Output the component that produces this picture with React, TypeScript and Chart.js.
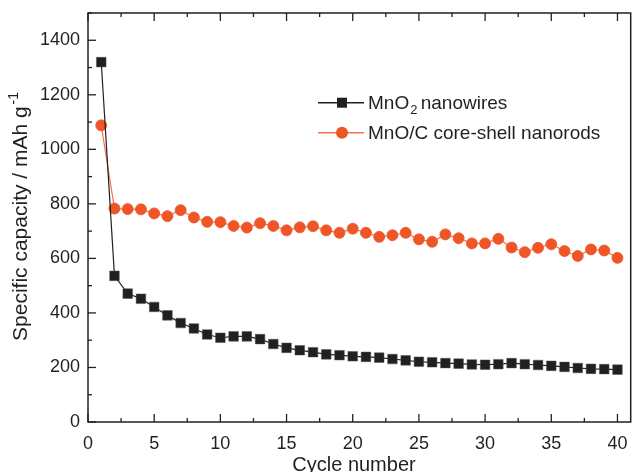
import React, { useEffect, useRef } from "react";
import { Chart, registerables } from "chart.js";

Chart.register(...registerables);

const cycles = [1, 2, 3, 4, 5, 6, 7, 8, 9, 10, 11, 12, 13, 14, 15, 16, 17, 18, 19, 20, 21, 22, 23, 24, 25, 26, 27, 28, 29, 30, 31, 32, 33, 34, 35, 36, 37, 38, 39, 40];
const mno2Nanowires = [1320, 536, 471, 452, 422, 391, 363, 343, 321, 309, 314, 314, 304, 286, 272, 263, 256, 248, 245, 241, 239, 236, 231, 226, 221, 219, 216, 214, 211, 210, 212, 216, 212, 209, 206, 202, 198, 195, 194, 192];
const mnoCNanorods = [1088, 783, 781, 780, 765, 755, 777, 750, 734, 733, 719, 713, 729, 719, 703, 714, 718, 703, 694, 709, 694, 679, 685, 694, 670, 661, 688, 674, 655, 655, 672, 640, 623, 639, 652, 627, 609, 633, 629, 602];

const xMajorTicks = [0, 5, 10, 15, 20, 25, 30, 35, 40];
const xMinorTicks = [2.5, 7.5, 12.5, 17.5, 22.5, 27.5, 32.5, 37.5];
const yMajorTicks = [0, 200, 400, 600, 800, 1000, 1200, 1400];
const yMinorTicks = [100, 300, 500, 700, 900, 1100, 1300, 1500];

const xTitle = "Cycle number";
const yTitle = "Specific capacity / mAh g";
const yTitleSup = "-1";
const legendLabels = ["MnO", "2", " nanowires", "MnO/C core-shell nanorods"];

const AXIS = "#231f20";
const BLACK = "#231f20";
const ORANGE = "#ef5526";
const ORANGE_LINE = "#f3734d";
const FONT = "'Liberation Sans', Arial, Helvetica, sans-serif";

const decorPlugin = {
  id: "decor",
  afterDraw(chart: any) {
    const { ctx, chartArea: a, scales } = chart;
    const xs = scales.x;
    const ys = scales.y;
    ctx.save();
    ctx.strokeStyle = AXIS;
    ctx.lineWidth = 1.5;
    ctx.strokeRect(a.left, a.top, a.right - a.left, a.bottom - a.top);
    ctx.lineWidth = 1.3;
    const tick = (x1: number, y1: number, x2: number, y2: number) => {
      ctx.beginPath();
      ctx.moveTo(x1, y1);
      ctx.lineTo(x2, y2);
      ctx.stroke();
    };
    xMajorTicks.forEach((v) => {
      const p = xs.getPixelForValue(v);
      tick(p, a.bottom, p, a.bottom - 8);
      tick(p, a.top, p, a.top + 8);
    });
    xMinorTicks.forEach((v) => {
      const p = xs.getPixelForValue(v);
      tick(p, a.bottom, p, a.bottom - 4);
      tick(p, a.top, p, a.top + 4);
    });
    yMajorTicks.forEach((v) => {
      const p = ys.getPixelForValue(v);
      tick(a.left, p, a.left + 8, p);
    });
    yMinorTicks.forEach((v) => {
      const p = ys.getPixelForValue(v);
      tick(a.left, p, a.left + 4, p);
    });

    // axis titles
    ctx.fillStyle = "#231f20";
    ctx.textBaseline = "alphabetic";
    ctx.font = `20px ${FONT}`;
    ctx.textAlign = "center";
    ctx.fillText(xTitle, 354, 471);

    ctx.save();
    ctx.translate(27, (a.top + a.bottom) / 2 - 3);
    ctx.rotate(-Math.PI / 2);
    ctx.font = `21px ${FONT}`;
    const w1 = ctx.measureText(yTitle + " ").width;
    ctx.font = `14px ${FONT}`;
    const w2 = ctx.measureText(yTitleSup).width;
    const start = -(w1 + w2) / 2;
    ctx.textAlign = "left";
    ctx.font = `21px ${FONT}`;
    ctx.fillText(yTitle, start, 0);
    ctx.font = `14px ${FONT}`;
    ctx.fillText(yTitleSup, start + w1 - 4, -9);
    ctx.restore();

    // legend
    const lx1 = 318, lx2 = 364, mx = 342;
    const r1 = 102.7, r2 = 132.7;
    ctx.lineWidth = 1.5;
    ctx.strokeStyle = BLACK;
    tick(lx1, r1, lx2, r1);
    ctx.fillStyle = BLACK;
    ctx.fillRect(mx - 5, r1 - 5, 10, 10);
    ctx.strokeStyle = ORANGE_LINE;
    tick(lx1, r2, lx2, r2);
    ctx.fillStyle = ORANGE;
    ctx.beginPath();
    ctx.arc(mx, r2, 6, 0, Math.PI * 2);
    ctx.fill();

    ctx.fillStyle = "#231f20";
    ctx.textAlign = "left";
    ctx.font = `19px ${FONT}`;
    let tx = 368;
    ctx.fillText(legendLabels[0], tx, r1 + 6.5);
    tx += ctx.measureText(legendLabels[0]).width;
    ctx.font = `13px ${FONT}`;
    ctx.fillText(legendLabels[1], tx + 1, r1 + 11);
    tx += ctx.measureText(legendLabels[1]).width - 1;
    ctx.font = `19px ${FONT}`;
    ctx.fillText(legendLabels[2], tx, r1 + 6.5);
    ctx.fillText(legendLabels[3], 368, r2 + 6.5);
    ctx.restore();
  },
};

export default function App() {
  const ref = useRef<HTMLCanvasElement | null>(null);
  useEffect(() => {
    if (!ref.current) return;
    const chart = new Chart(ref.current, {
      type: "line",
      data: {
        datasets: [
          {
            label: "MnO2 nanowires",
            data: cycles.map((c, i) => ({ x: c, y: mno2Nanowires[i] })),
            borderColor: BLACK,
            backgroundColor: BLACK,
            borderWidth: 1.2,
            pointStyle: "rect",
            pointRadius: 6.8,
            pointBorderWidth: 0.5,
            pointBorderColor: "#555",
            pointBackgroundColor: BLACK,
            order: 0,
          },
          {
            label: "MnO/C core-shell nanorods",
            data: cycles.map((c, i) => ({ x: c, y: mnoCNanorods[i] })),
            borderColor: ORANGE_LINE,
            backgroundColor: ORANGE,
            borderWidth: 1.2,
            pointStyle: "circle",
            pointRadius: 5.5,
            pointBorderWidth: 0.8,
            pointBorderColor: ORANGE,
            pointBackgroundColor: ORANGE,
            order: 1,
          },
        ],
      },
      options: {
        responsive: false,
        animation: false,
        layout: { padding: { top: 13, right: 1, left: 0, bottom: 0 } },
        plugins: { legend: { display: false }, tooltip: { enabled: false } },
        scales: {
          x: {
            type: "linear",
            min: 0,
            max: 41,
            grid: { display: false },
            border: { display: false },
            ticks: {
              stepSize: 5,
              includeBounds: false,
              maxRotation: 0,
              autoSkip: false,
              padding: 3,
              color: "#231f20",
              font: { family: FONT, size: 18 },
              callback: (v: any) => String(v),
            },
            afterFit: (s: any) => {
              s.height = 50;
            },
          },
          y: {
            type: "linear",
            min: 0,
            max: 1500,
            grid: { display: false },
            border: { display: false },
            ticks: {
              stepSize: 200,
              includeBounds: false,
              autoSkip: false,
              padding: 0,
              color: "#231f20",
              font: { family: FONT, size: 18 },
              callback: (v: any) => String(v),
            },
            afterFit: (s: any) => {
              s.width = 88;
            },
          },
        },
      },
      plugins: [decorPlugin],
    });
    return () => chart.destroy();
  }, []);
  return (
    <div style={{ position: "absolute", left: 0, top: 0, width: 638, height: 472 }}>
      <canvas ref={ref} width={638} height={472} style={{ display: "block" }} />
    </div>
  );
}
